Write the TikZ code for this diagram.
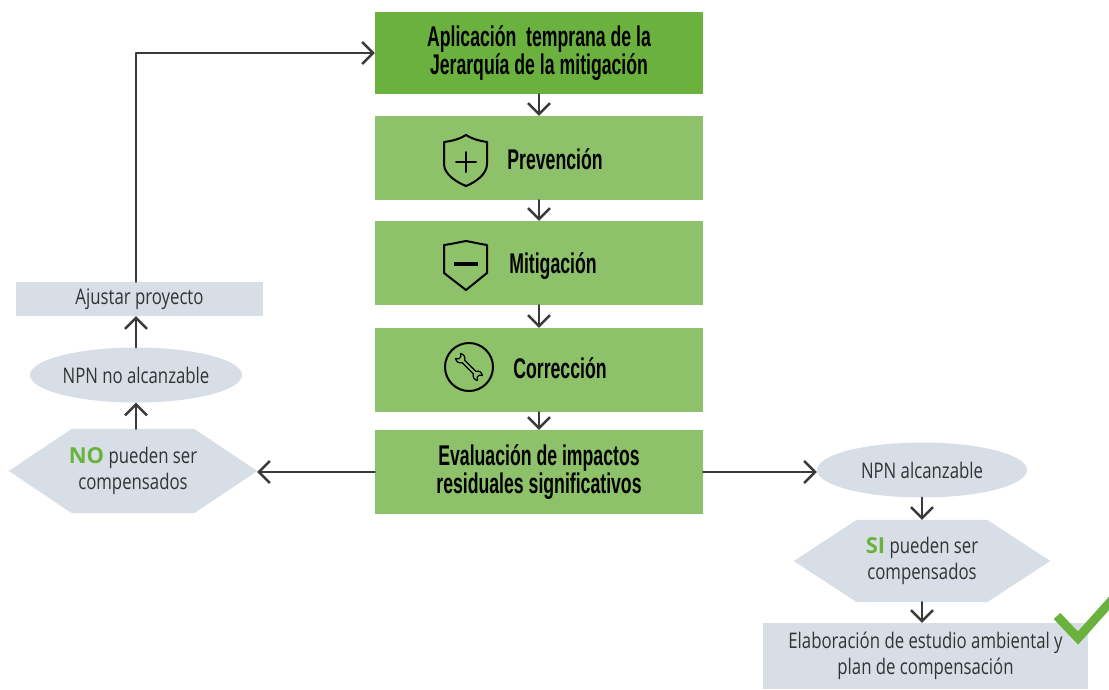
\documentclass[tikz,border=0pt]{standalone}
\usepackage{fontspec}
\usetikzlibrary{arrows.meta,shapes.geometric,backgrounds}
\newfontfamily\hopfont{Liberation Sans}[FakeStretch=0.62]
\newfontfamily\xamfont{Open Sans}[FakeStretch=0.78]
\newfontfamily\nhanfont{Open Sans}
\definecolor{xanhdam}{HTML}{6AB23D}
\definecolor{xanhnhat}{HTML}{8DC16A}
\definecolor{xam}{HTML}{D7DEE6}
\definecolor{net}{HTML}{3A3A3A}
\definecolor{chu}{HTML}{333333}
\newcommand{\nhan}[1]{{\nhanfont\bfseries\fontsize{22}{26}\selectfont\color{xanhdam}#1}}
\begin{document}
\begin{tikzpicture}[x=1pt,y=-1pt,>={Straight Barb[length=11pt,width=22pt]},line join=round,line cap=round,
	hop/.style={fill=xanhnhat,minimum width=328pt,minimum height=84pt,inner sep=0pt},
	chuhop/.style={font=\hopfont\bfseries\fontsize{28.5}{25}\selectfont,align=center,text=black},
	khung/.style={fill=xam,inner sep=0pt},
	chuxam/.style={font=\xamfont\fontsize{21.5}{26}\selectfont,align=center,text=chu},
	hexa/.style={chuxam,inner sep=0pt,minimum width=248pt,minimum height=84pt},
	muiten/.style={->,draw=net,line width=2.5pt},
	bieutuong/.style={line width=2pt,black}]
	\useasboundingbox (0,0) rectangle (1109,689);
	% Cột giữa
	\node[hop,chuhop,fill=xanhdam,minimum height=82pt] (apl) at (539,53) {Aplicación~ temprana de la\\Jerarquía de la mitigación};
	\node[hop] (prev) at (539,158) {};
	\node[hop] (mitig) at (539,263) {};
	\node[hop] (corr) at (539,370) {};
	\node[hop,chuhop,fill=xanhnhat] (eval) at (539,472) {Evaluación de impactos\\residuales significativos};
	\node[chuhop,anchor=base] at (555,169) {Prevención};
	\node[chuhop,anchor=base] at (553,273) {Mitigación};
	\node[chuhop,anchor=base] at (560,378) {Corrección};
	% Biểu tượng
	\draw[bieutuong] (444,142) .. controls (452,141) and (460,139) .. (466,135) .. controls (472,139) and (480,141) .. (487,142) -- (487,164) .. controls (487,174) and (476,182) .. (466,186) .. controls (456,182) and (444,174) .. (444,164) -- cycle;
	\draw[bieutuong] (456,162) -- (476,162) (466,152) -- (466,172);
	\draw[bieutuong] (444,245) .. controls (452,244) and (460,242) .. (466,241) .. controls (472,242) and (480,244) .. (487,245) -- (487,273) -- (466,290) -- (444,273) -- cycle;
	\draw[black,line width=4pt,line cap=butt] (454,264) -- (478,264);
	\draw[bieutuong] (469,367) circle[radius=24pt];
	\begin{scope}[shift={(469,367)},rotate=-45]
		\draw[black,line width=1.2pt] (-8,1.8) -- (8,1.8) .. controls (9,4.5) and (13,5.5) .. (15.5,3.5) -- (13,1.5) -- (13,-1.5) -- (15.5,-3.5) .. controls (13,-5.5) and (9,-4.5) .. (8,-1.8) -- (-8,-1.8) .. controls (-9,-4.5) and (-13,-5.5) .. (-15.5,-3.5) -- (-13,-1.5) -- (-13,1.5) -- (-15.5,3.5) .. controls (-13,5.5) and (-9,4.5) .. (-8,1.8) -- cycle;
	\end{scope}
	% Nhánh trái
	\node[hexa] (noc) at (133,471) {\nhan{NO} pueden ser\\compensados};
	\node[khung,ellipse,chuxam,minimum width=212pt,minimum height=55pt] (npnno) at (136,375) {NPN no alcanzable};
	\node[khung,chuxam,minimum width=247pt,minimum height=34pt] (ajustar) at (139.5,299) {Ajustar proyecto};
	% Nhánh phải
	\node[khung,ellipse,chuxam,minimum width=210pt,minimum height=55pt] (npnsi) at (922,470) {NPN alcanzable};
	\node[hexa,minimum width=256pt,minimum height=82pt] (sic) at (922,561) {\nhan{SI} pueden ser\\compensados};
	\node[khung,chuxam,minimum width=325pt,minimum height=66pt] (elab) at (925.5,656) {Elaboración de estudio ambiental y\\plan de compensación};
	\begin{scope}[on background layer]
		\foreach \h in {noc,sic}
		\fill[xam] (\h.west) -- ([xshift=63pt]\h.north west) -- ([xshift=-63pt]\h.north east) -- (\h.east) -- ([xshift=-63pt]\h.south east) -- ([xshift=63pt]\h.south west) -- cycle;
	\end{scope}
	% Mũi tên
	\foreach \a/\b in {apl/prev,prev/mitig,mitig/corr,corr/eval}
	\draw[muiten] (\a) -- (\b);
	\draw[muiten] (eval.west) -- (eval.west -| noc.east);
	\draw[muiten] (noc.north -| npnno.south) -- (npnno.south);
	\draw[muiten] (npnno.north) -- (npnno.north |- ajustar.south);
	\draw[muiten] (npnno.north |- ajustar.north) |- (apl.west);
	\draw[muiten] (eval.east) -- (eval.east -| npnsi.west);
	\draw[muiten] (npnsi.south) -- (sic.north);
	\draw[muiten] (sic.south) -- (sic.south |- elab.north);
	\draw[xanhdam,line width=9pt,line cap=butt,line join=miter] (1057,616) -- (1078,638) -- (1112,600);
\end{tikzpicture}
\end{document}
